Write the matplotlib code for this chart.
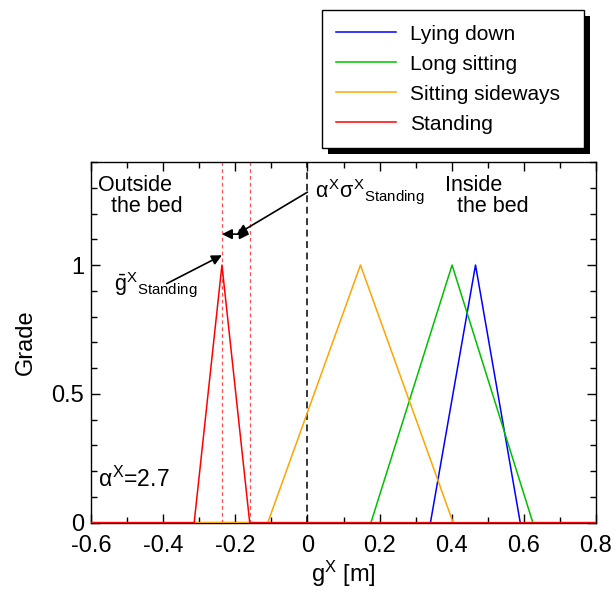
import matplotlib
matplotlib.use("Agg")
import matplotlib.pyplot as plt
from matplotlib.ticker import MultipleLocator, FuncFormatter
from matplotlib.patches import Rectangle

plt.rcParams["font.family"] = ["Liberation Sans", "DejaVu Sans"]
plt.rcParams["mathtext.fontset"] = "custom"
plt.rcParams["mathtext.rm"] = "Liberation Sans"
plt.rcParams["mathtext.it"] = "Liberation Sans"
plt.rcParams["mathtext.bf"] = "Liberation Sans:bold"
plt.rcParams["axes.unicode_minus"] = False

# Triangular membership functions: left foot, peak, right foot (metres)
postures = ["Lying down", "Long sitting", "Sitting sideways", "Standing"]
left_foot = [0.341, 0.176, -0.110, -0.314]
peak = [0.466, 0.401, 0.147, -0.237]
right_foot = [0.590, 0.625, 0.404, -0.160]
colors = ["#0000ff", "#00c000", "#ffa500", "#ff0000"]
alpha_x = 2.7

x_min, x_max = -0.6, 0.8

fig = plt.figure(figsize=(6.16, 5.95), dpi=100)
ax = fig.add_axes([91 / 616, 1 - 522.7 / 595, 505 / 616, 360.7 / 595])

for name, a, b, c, col in zip(postures, left_foot, peak, right_foot, colors):
    ax.plot([x_min, a, b, c, x_max], [0, 0, 1, 0, 0], color=col, lw=1.1,
            label=name, zorder=3)

# Boundary between outside / inside the bed
ax.axvline(0, color="black", lw=1.1, ls=(0, (4.5, 3)), zorder=2)

# Standing mean and mean + alpha*sigma
ax.axvline(peak[3], color="#ff5050", lw=0.9, ls=(0, (3, 2.5)), zorder=2)
ax.axvline(right_foot[3], color="#ff5050", lw=0.9, ls=(0, (3, 2.5)), zorder=2)

ax.set_xlim(x_min, x_max)
ax.set_ylim(0, 1.4)

ax.xaxis.set_major_locator(MultipleLocator(0.2))
ax.xaxis.set_minor_locator(MultipleLocator(0.1))
ax.yaxis.set_major_locator(MultipleLocator(0.5))
ax.yaxis.set_minor_locator(MultipleLocator(0.1))
ax.xaxis.set_major_formatter(FuncFormatter(lambda v, p: f"{v:.1f}".rstrip("0").rstrip(".") if abs(v) > 1e-9 else "0"))
ax.yaxis.set_major_formatter(FuncFormatter(lambda v, p: f"{v:g}"))

ax.tick_params(which="both", direction="in", top=True, right=True, width=1.0,
               labelsize=17)
ax.tick_params(which="major", length=6.5)
ax.tick_params(which="minor", length=4.5)
ax.tick_params(axis="x", pad=9)
ax.tick_params(axis="y", pad=5)
for s in ax.spines.values():
    s.set_linewidth(1.0)

ax.set_xlabel(r"g$^{\mathrm{X}}$ [m]", fontsize=17, labelpad=1)
ax.set_ylabel("Grade", fontsize=17)
ax.yaxis.set_label_coords(-0.108, 0.5)

fs = 15.5
ax.text(-0.5806, 1.287, "Outside", fontsize=fs, va="baseline")
ax.text(-0.5446, 1.205, "the bed", fontsize=fs, va="baseline")
ax.text(0.3814, 1.287, "Inside", fontsize=fs, va="baseline")
ax.text(0.4138, 1.205, "the bed", fontsize=fs, va="baseline")
ax.text(0.021, 1.2636, r"$\alpha^{X}\sigma^{X}{}_{\mathrm{Standing}}$",
        fontsize=15.5, va="baseline")
ax.text(-0.535, 0.902, r"$\bar{g}^{X}{}_{\mathrm{Standing}}$",
        fontsize=15.5, va="baseline")
ax.text(-0.5798, 0.1395, r"$\alpha^{X}$=2.7", fontsize=16.5, va="baseline")

# Width of alpha*sigma band
ax.annotate("", xy=(peak[3], 1.12), xytext=(right_foot[3], 1.12),
            arrowprops=dict(arrowstyle="<|-|>", color="black", lw=1.2,
                            mutation_scale=15, shrinkA=0, shrinkB=0))
ax.annotate("", xy=(-0.196, 1.119), xytext=(0.0, 1.283),
            arrowprops=dict(arrowstyle="-|>", color="black", lw=1.2,
                            mutation_scale=15, shrinkA=0, shrinkB=0))
ax.annotate("", xy=(peak[3], 1.038), xytext=(-0.39, 0.928),
            arrowprops=dict(arrowstyle="-|>", color="black", lw=1.2,
                            mutation_scale=15, shrinkA=0, shrinkB=0))

handles, labels = ax.get_legend_handles_labels()
leg = fig.legend(handles, labels, loc="upper left",
                 bbox_to_anchor=(321.7 / 616, 1 - 142.7 / 595,
                                 262.3 / 616, 132.7 / 595),
                 mode="expand", fontsize=15, frameon=True, fancybox=False,
                 edgecolor="black", framealpha=1, handlelength=2.88,
                 handletextpad=0.64, labelspacing=0.53, borderpad=0.7,
                 borderaxespad=0)
leg.get_frame().set_linewidth(1.0)
leg.set_zorder(5)

fig.canvas.draw()
bb = leg.get_frame().get_window_extent()
shadow = Rectangle((bb.x0 + 6, bb.y0 - 6), bb.width, bb.height,
                   transform=None, facecolor="black", edgecolor="none",
                   zorder=4)
fig.patches.append(shadow)

fig.savefig("out.png", dpi=100)
